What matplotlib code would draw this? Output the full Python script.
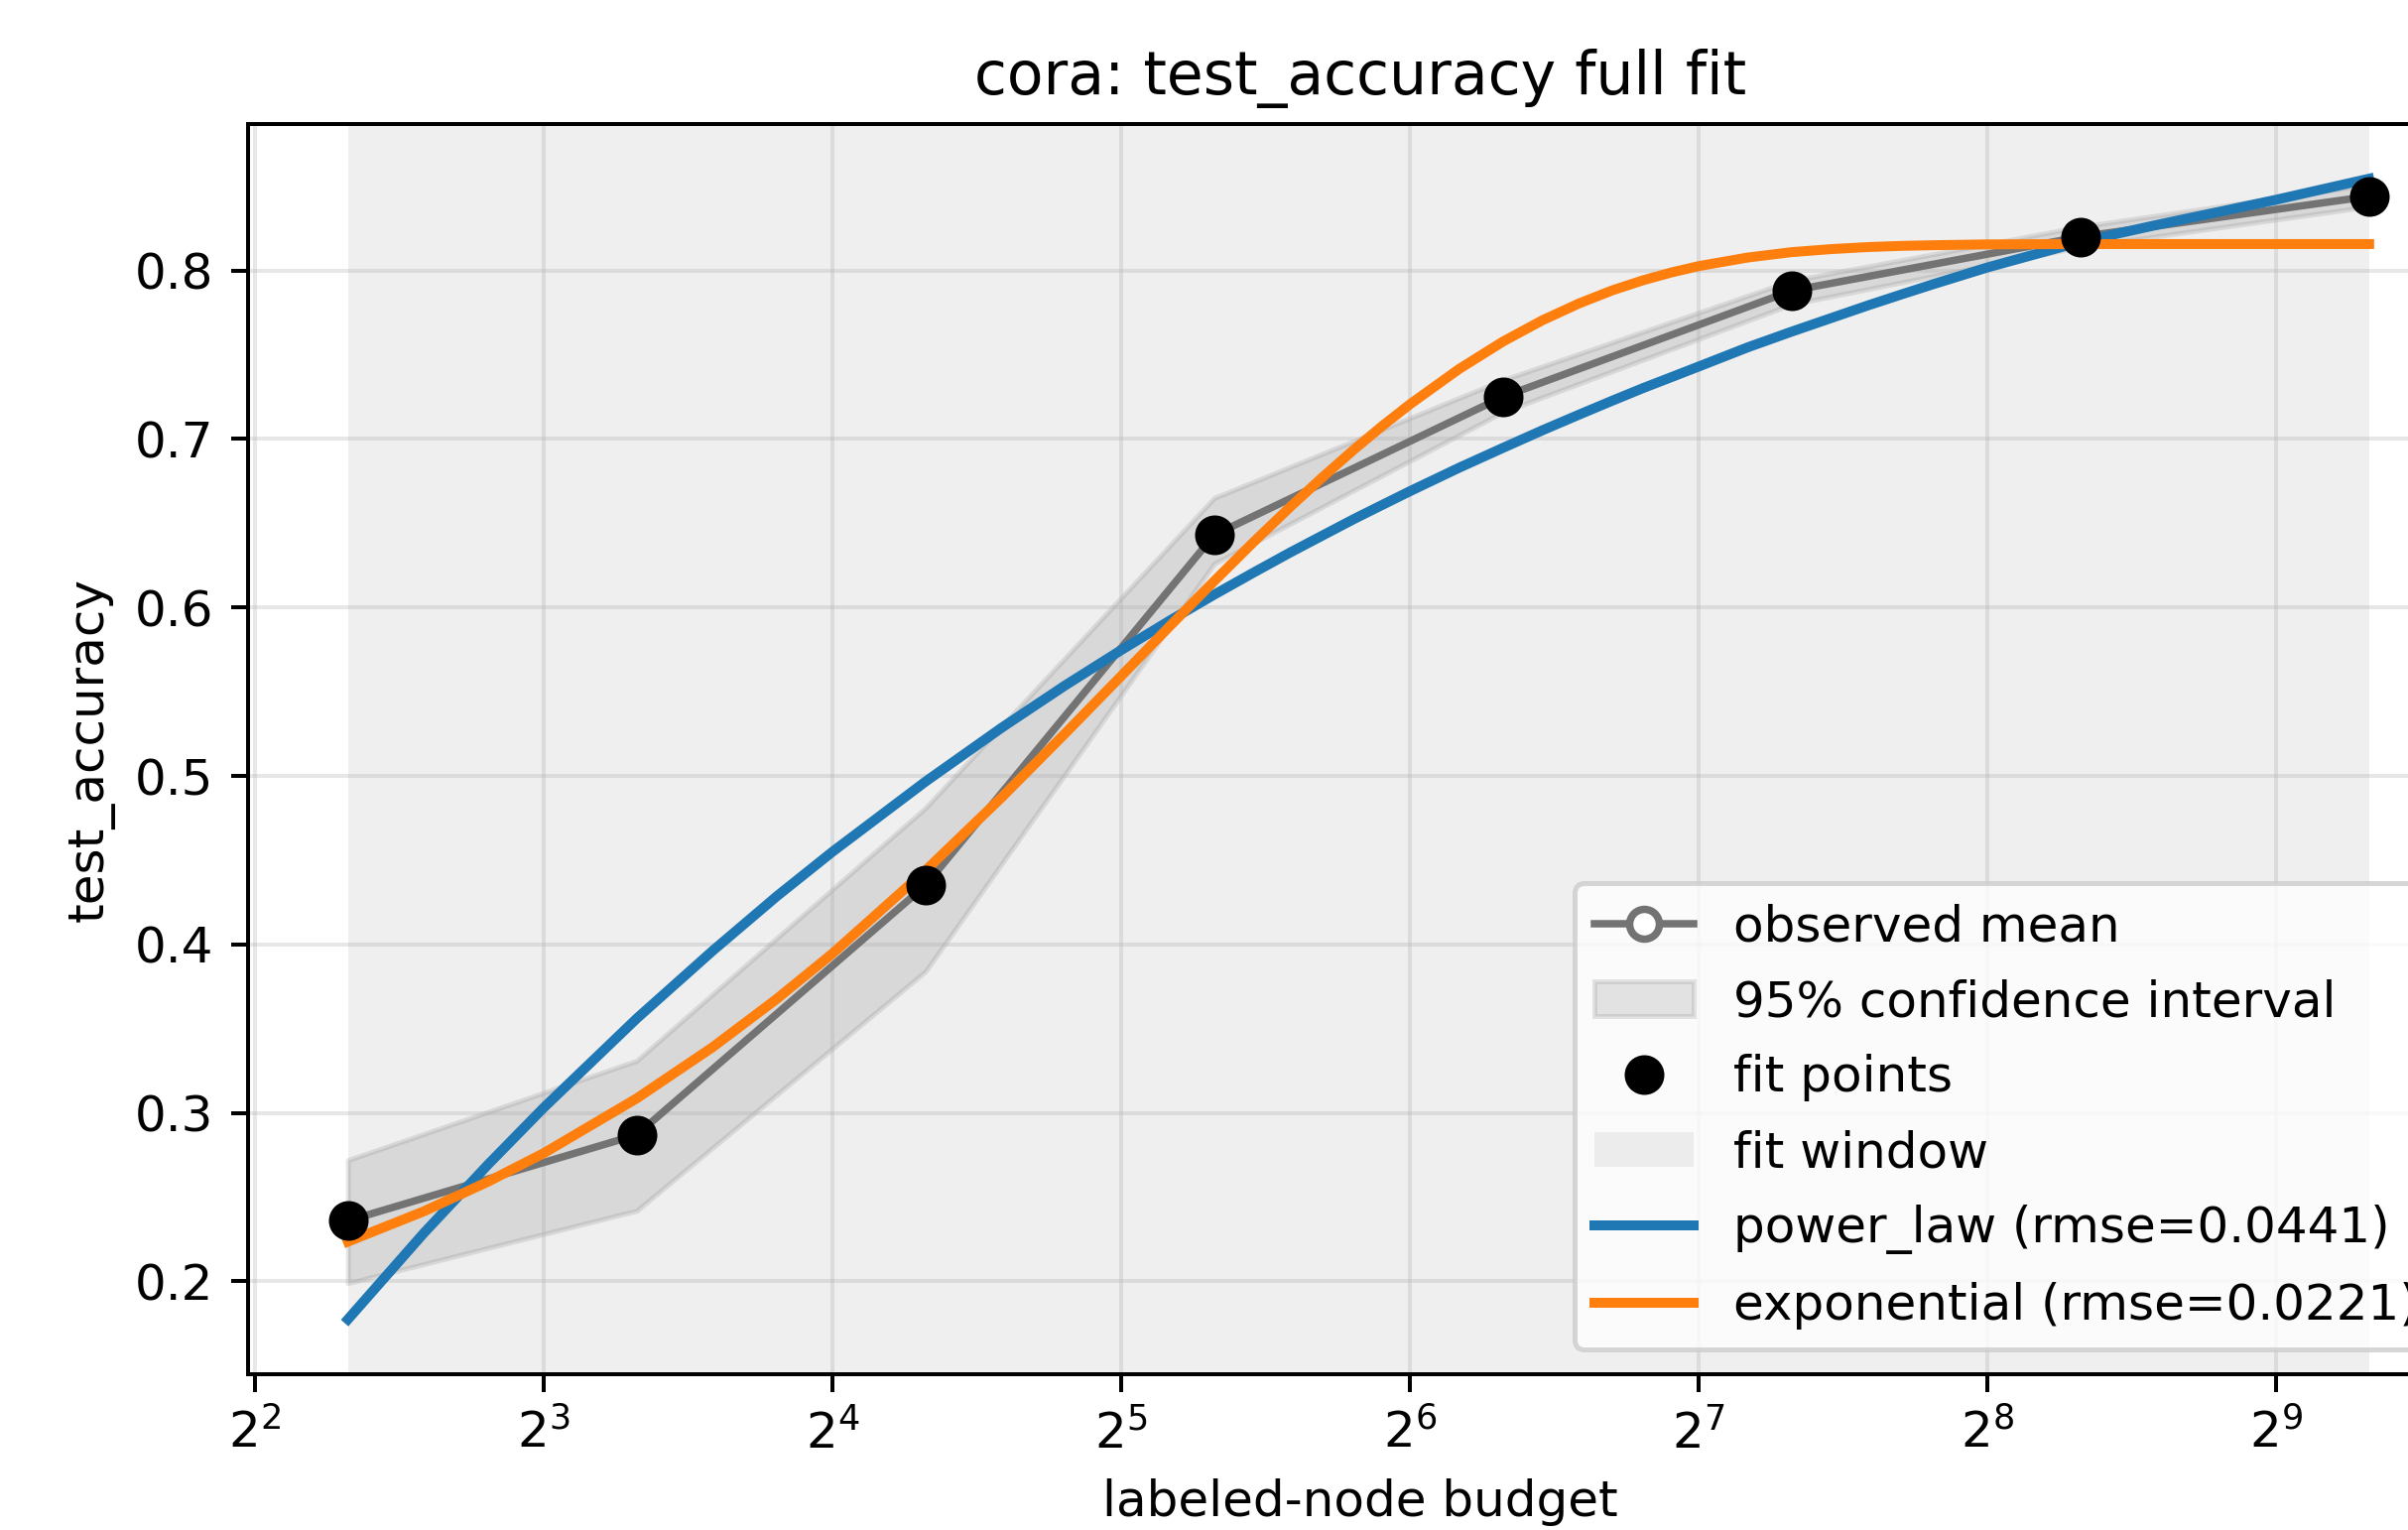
import matplotlib
matplotlib.use("Agg")
import matplotlib.pyplot as plt

# observed learning curve (labeled-node budget -> mean test accuracy)
budget = [5, 10, 20, 40, 80, 160, 320, 640]
acc_mean = [0.236, 0.287, 0.435, 0.643, 0.725, 0.788, 0.820, 0.844]
ci_low = [0.199, 0.242, 0.384, 0.626, 0.716, 0.780, 0.814, 0.838]
ci_high = [0.272, 0.331, 0.481, 0.665, 0.735, 0.794, 0.826, 0.851]

# fitted curves
curve_x = [5, 6, 7, 8, 10, 12, 14, 16, 20, 24, 28, 32, 36, 40, 44, 48, 52, 56,
           60, 64, 72, 80, 88, 96, 104, 112, 120, 128, 144, 160, 176, 192, 208,
           224, 256, 320, 384, 448, 512, 640]
power_law_y = [0.1775, 0.2287, 0.2694, 0.3031, 0.3560, 0.3962, 0.4286, 0.4550,
               0.4966, 0.5285, 0.5539, 0.5747, 0.5924, 0.6076, 0.6208, 0.6326,
               0.6430, 0.6526, 0.6611, 0.6690, 0.6829, 0.6947, 0.7052, 0.7144,
               0.7227, 0.7302, 0.7368, 0.7430, 0.7544, 0.7637, 0.7718, 0.7792,
               0.7857, 0.7916, 0.8018, 0.8170, 0.8270, 0.8350, 0.8420, 0.8545]
exponential_y = [0.2236, 0.2416, 0.2592, 0.2761, 0.3086, 0.3390, 0.3677, 0.3946,
                 0.4438, 0.4871, 0.5255, 0.5593, 0.5892, 0.6156, 0.6390, 0.6596,
                 0.6778, 0.6939, 0.7081, 0.7206, 0.7415, 0.7578, 0.7705, 0.7804,
                 0.7882, 0.7942, 0.7989, 0.8026, 0.8077, 0.8109, 0.8127, 0.8139,
                 0.8146, 0.8150, 0.8155, 0.8157, 0.8157, 0.8157, 0.8157, 0.8157]
rmse = {"power_law": 0.0441, "exponential": 0.0221}

fig = plt.figure(figsize=(2427 / 360, 1542 / 360), dpi=360)
ax = fig.add_axes([0.1030, 0.1018, 0.9238, 0.8171])

ax.plot(budget, acc_mean, "-o", color="0.45", lw=1.5, ms=6,
        mfc="white", mec="0.45", mew=1.5, label="observed mean", zorder=2)
ax.fill_between(budget, ci_low, ci_high, color="gray", alpha=0.2,
                label="95% confidence interval")
ax.plot(budget, acc_mean, "o", color="black", ms=7, label="fit points", zorder=3)
ax.axvspan(budget[0], budget[-1], color="gray", alpha=0.12, lw=0,
           label="fit window", zorder=0)
ax.plot(curve_x, power_law_y, color="tab:blue", lw=2,
        label=f"power_law (rmse={rmse['power_law']:.4f})")
ax.plot(curve_x, exponential_y, color="tab:orange", lw=2,
        label=f"exponential (rmse={rmse['exponential']:.4f})")

ax.set_xscale("log", base=2)
ax.set_xlim(2 ** 1.976, 2 ** 9.68)
ax.set_ylim(0.1449, 0.8869)
ax.grid(True, alpha=0.3)
ax.set_xlabel("labeled-node budget")
ax.set_ylabel("test_accuracy")
ax.set_title("cora: test_accuracy full fit")
ax.legend(loc="lower right", bbox_to_anchor=(0.996, 0.0), labelspacing=0.56)

fig.savefig("out.png", dpi=360)
